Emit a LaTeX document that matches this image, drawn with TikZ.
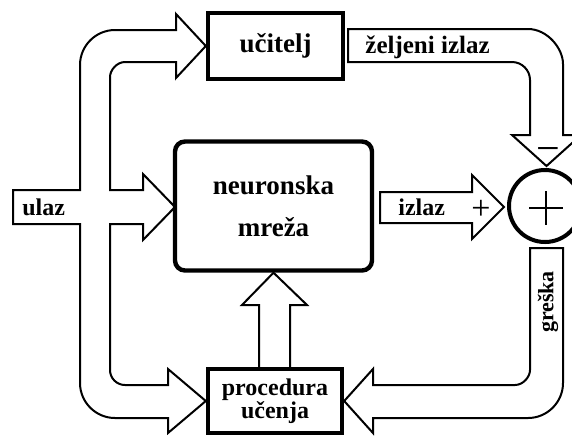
\documentclass[tikz,border=0pt]{standalone}
\usepackage{fontspec}
\setmainfont{Liberation Serif}
\begin{document}
\begin{tikzpicture}[x=0.5pt,y=-0.5pt,
  box/.style={draw, line width=2.2pt, inner sep=0pt},
  flow/.style={draw, line width=1pt, line join=miter},
  lbl/.style={inner sep=0pt, font=\fontsize{12}{14}\selectfont\bfseries},
  sign/.style={inner sep=0pt, anchor=base}]
\useasboundingbox (0,0) rectangle (572,435);
\clip (0,0) rectangle (572,435);

% blocks
\node[box, minimum width=67.5pt, minimum height=33pt,
      font=\fontsize{13.5}{16}\selectfont\bfseries] (ucitelj) at (275.5,46) {učitelj};
\node[box, rounded corners=5pt, minimum width=98.5pt, minimum height=64.5pt,
      align=center, font=\fontsize{13.5}{21}\selectfont\bfseries] (nn) at (273.5,206)
      {neuronska\\mreža};
\node[box, minimum width=67pt, minimum height=32pt, align=center,
      font=\fontsize{12}{11.5}\selectfont\bfseries] (pu) at (275,401) {procedura\\učenja};
\node[draw, circle, line width=2pt, minimum size=36pt, inner sep=0pt] (sum) at (545,206) {};
\draw[line width=1.3pt] (529,208) -- (563,208) (546,191) -- (546,225);

% input trunk splitting to teacher, network and learning procedure
\draw[flow] (13,190) -- (80,190) -- (80,65)
  .. controls (80,45.75) and (95.75,30) .. (115,30) -- (176,30) -- (176,14)
  -- (ucitelj.west) -- (176,78) -- (176,62) -- (125,62)
  .. controls (116.75,62) and (110,70.25) .. (110,77) -- (110,190) -- (143,190)
  -- (143,174) -- (175,207) -- (143,240) -- (143,224) -- (110,224) -- (110,370)
  .. controls (110,378.25) and (116.75,385) .. (125,385) -- (168,385) -- (168,369)
  -- (pu.west) -- (168,433) -- (168,418) -- (115,418)
  .. controls (95.75,418) and (80,402.25) .. (80,383) -- (80,224) -- (13,224) -- cycle;
\node[lbl, anchor=base west] (ulaz) at (22,215) {ulaz};

% desired output
\draw[flow] (348,62) -- (348,29) -- (528,29)
  .. controls (547.25,29) and (563,48.25) .. (563,64) -- (563,135) -- (581,135)
  -- (546.5,166) -- (512,135) -- (530,135) -- (530,80)
  .. controls (530,70.1) and (521.9,62) .. (512,62) -- cycle;
\node[lbl, anchor=base west, font=\fontsize{12.5}{15}\selectfont\bfseries] (zi) at (365,53) {željeni izlaz};
\node[sign, font=\fontsize{21}{21}\selectfont] (minus) at (548,162) {−};

% network output
\draw[flow] (380,192) -- (472,192) -- (472,175) -- (504,207) -- (472,239)
  -- (472,223) -- (380,223) -- cycle;
\node[lbl, anchor=base west] (iz) at (398,215) {izlaz};
\node[sign, font=\fontsize{17}{17}\selectfont] (plus) at (481,219) {+};

% error back to learning procedure
\draw[flow] (530,248) -- (563,248) -- (563,383)
  .. controls (563,402.25) and (547.25,418) .. (528,418) -- (373,418) -- (373,433)
  -- (pu.east) -- (373,369) -- (373,385) -- (515,385)
  .. controls (523.25,385) and (530,376.75) .. (530,370) -- cycle;
\node[lbl, rotate=90, font=\fontsize{11}{13}\selectfont\bfseries] (gr) at (548,302) {greška};

% learning procedure adjusts the network
\draw[flow] (259,369) -- (259,305) -- (242,305) -- (nn.south) -- (307,305)
  -- (290,305) -- (290,369);
\end{tikzpicture}
\end{document}
